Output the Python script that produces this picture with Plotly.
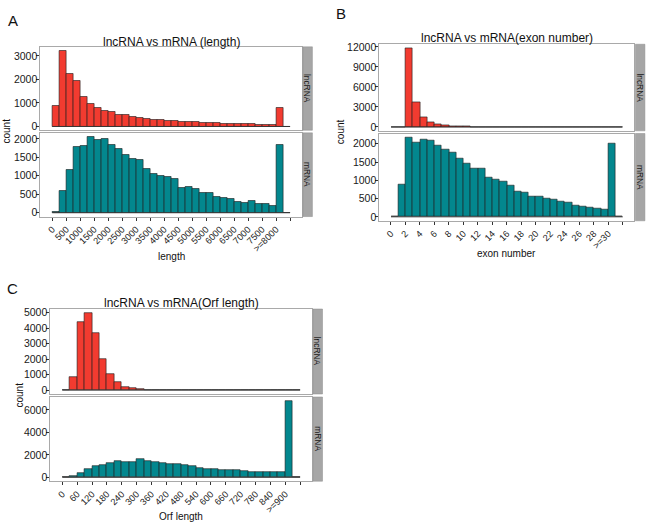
import numpy as np
import plotly.graph_objects as go

W, H = 648, 528

# ---------------- data ----------------
length_binwidth = 250
length_lnc = [870, 3230, 2260, 1960, 1280, 960, 780, 655, 615, 515, 475, 430, 380, 330, 300,
              290, 250, 230, 210, 215, 180, 160, 150, 140, 130, 120, 110, 95, 110, 85, 75, 75,
              810, 0]
length_mrna = [30, 586, 1154, 1776, 1803, 2060, 1971, 1989, 1838, 1740, 1571, 1447, 1420, 1180,
               1057, 1004, 977, 906, 684, 710, 639, 542, 542, 435, 417, 364, 284, 258, 320, 249,
               249, 195, 1847, 0]
length_tickvals = list(range(0, 8001, 500)) + [8500]
length_ticktext = [str(v) for v in range(0, 7501, 500)] + [">=8000", ""]

exon_binwidth = 1
exon_lnc = [0, 0, 11800, 3650, 1500, 720, 340, 180, 100, 60, 40, 25, 18, 12, 9, 7, 5, 4, 3, 3,
            2, 2, 1, 1, 1, 1, 1, 0, 0, 0, 10, 0]
exon_mrna = [0, 890, 2172, 2036, 2109, 2090, 1955, 1837, 1765, 1584, 1457, 1330, 1312, 1086,
             1023, 959, 851, 706, 661, 570, 552, 498, 462, 407, 380, 308, 290, 244, 226, 199,
             2000, 0]
exon_tickvals = list(range(0, 31, 2)) + [32]
exon_ticktext = [str(v) for v in range(0, 29, 2)] + [">=30", ""]

orf_binwidth = 30
orf_lnc = [0, 870, 4360, 4980, 3710, 2030, 1020, 510, 190, 130, 65, 40, 25, 15, 10, 6, 4, 2, 1,
           1, 0, 0, 0, 0, 0, 0, 0, 0, 0, 0, 0, 0]
orf_mrna = [30, 140, 400, 740, 1000, 1090, 1260, 1430, 1400, 1340, 1630, 1490, 1400, 1260, 1170,
            1170, 1090, 970, 860, 770, 740, 660, 690, 630, 600, 510, 490, 490, 490, 470, 6800, 0]
orf_tickvals = list(range(0, 901, 60)) + [960]
orf_ticktext = [str(v) for v in range(0, 841, 60)] + [">=900", ""]

RED = "#F23B30"
TEAL = "#03878E"
FONT = "Liberation Sans"

# ---------------- layout geometry (pixels) ----------------
panels = [
    dict(key="A", title="lncRNA vs mRNA (length)", xlabel="length",
         x0=40.4, x1=301.9, top=(43.3, 127.7), bot=(130.3, 215.0),
         title_y=38, xlabel_y=255, count_x=7,
         bw=length_binwidth, lnc=length_lnc, mrna=length_mrna,
         tv=length_tickvals, tt=length_ticktext,
         lnc_ticks=[0, 1000, 2000, 3000], mrna_ticks=[0, 500, 1000, 1500, 2000],
         letter=(13, 17)),
    dict(key="B", title="lncRNA vs mRNA(exon number)", xlabel="exon number",
         x0=379.4, x1=634.4, top=(40.7, 128.3), bot=(131.0, 219.3),
         title_y=34.5, xlabel_y=252, count_x=340,
         bw=exon_binwidth, lnc=exon_lnc, mrna=exon_mrna,
         tv=exon_tickvals, tt=exon_ticktext,
         lnc_ticks=[0, 3000, 6000, 9000, 12000], mrna_ticks=[0, 500, 1000, 1500, 2000],
         letter=(341, 10)),
    dict(key="C", title="lncRNA vs mRNA(Orf length)", xlabel="Orf length",
         x0=50.4, x1=312.0, top=(308.5, 394.5), bot=(397.5, 482.7),
         title_y=302, xlabel_y=518, count_x=19,
         bw=orf_binwidth, lnc=orf_lnc, mrna=orf_mrna,
         tv=orf_tickvals, tt=orf_ticktext,
         lnc_ticks=[0, 1000, 2000, 3000, 4000, 5000], mrna_ticks=[0, 2000, 4000, 6000],
         letter=(12, 288)),
]


def px(x):
    return x / W


def py(y):
    return 1 - y / H


fig = go.Figure()
layout = dict(width=W, height=H, margin=dict(l=0, r=0, t=0, b=0),
              paper_bgcolor="white", plot_bgcolor="white", showlegend=False,
              font=dict(family=FONT, color="#1a1a1a"), bargap=0)
shapes = []
annotations = []


def note(x, y, text, size, angle=0, color="#111"):
    annotations.append(dict(x=px(x), y=py(y), xref="paper", yref="paper", text=text,
                            textangle=angle, showarrow=False, xanchor="center",
                            yanchor="middle",
                            font=dict(size=size, family=FONT, color=color)))


ax = 0
for p in panels:
    n = len(p["lnc"])
    bw = p["bw"]
    centers = [bw * (i + 0.5) for i in range(n)]
    xmax = bw * n
    pad = 0.05 * xmax
    xr = [-pad, xmax + pad]
    for row, (vals, color, ticks, ylims, label) in enumerate([
        (p["lnc"], RED, p["lnc_ticks"], p["top"], "lncRNA"),
        (p["mrna"], TEAL, p["mrna_ticks"], p["bot"], "mRNA"),
    ]):
        ax += 1
        xa = "x" if ax == 1 else f"x{ax}"
        ya = "y" if ax == 1 else f"y{ax}"
        fig.add_trace(go.Bar(x=centers, y=vals, width=[bw] * n, xaxis=xa, yaxis=ya,
                             marker=dict(color=color, line=dict(color="#1a1a1a", width=0.6)),
                             hoverinfo="skip"))
        fig.add_trace(go.Scatter(x=[0, xmax], y=[0, 0], xaxis=xa, yaxis=ya, mode="lines",
                                 line=dict(color="#333333", width=0.9), hoverinfo="skip"))
        vmax = max(vals)
        yr = [-0.05 * vmax, 1.05 * vmax]
        is_bottom = row == 1
        xd = dict(domain=[px(p["x0"]), px(p["x1"])], range=xr, anchor=ya,
                  showgrid=False, zeroline=False, showline=True, mirror=True,
                  linecolor="#A9A9A9", linewidth=1,
                  tickvals=p["tv"], ticktext=p["tt"],
                  ticks="outside" if is_bottom else "", ticklen=3, tickcolor="#333",
                  showticklabels=is_bottom, tickangle=-45,
                  tickfont=dict(size=9.2, family=FONT, color="#1a1a1a"))
        yd = dict(domain=[py(ylims[1]), py(ylims[0])], range=yr, anchor=xa,
                  showgrid=False, zeroline=False, showline=True, mirror=True,
                  linecolor="#A9A9A9", linewidth=1,
                  tickvals=ticks, ticktext=[str(t) for t in ticks],
                  ticks="outside", ticklen=3, tickcolor="#333",
                  ticklabelstandoff=-3,
                  tickfont=dict(size=10.5, family=FONT, color="#1a1a1a"))
        layout["xaxis" if ax == 1 else f"xaxis{ax}"] = xd
        layout["yaxis" if ax == 1 else f"yaxis{ax}"] = yd
        # facet strip
        sx0, sx1 = p["x1"] + 1, p["x1"] + 10.5
        shapes.append(dict(type="rect", xref="paper", yref="paper",
                           x0=px(sx0), x1=px(sx1), y0=py(ylims[1]), y1=py(ylims[0]),
                           fillcolor="#A6A6A6", line=dict(color="#8C8C8C", width=0.5)))
        note((sx0 + sx1) / 2, (ylims[0] + ylims[1]) / 2, label, 8.4, angle=90, color="#1a1a1a")
    note((p["x0"] + p["x1"]) / 2, p["title_y"], p["title"], 12)
    note((p["x0"] + p["x1"]) / 2, p["xlabel_y"], p["xlabel"], 10)
    note(p["count_x"], (p["top"][1] + p["bot"][0]) / 2, "count", 10, angle=-90)
    note(p["letter"][0], p["letter"][1], p["key"], 15)

layout["shapes"] = shapes
layout["annotations"] = annotations
fig.update_layout(**layout)
fig.write_html("out.html", config={"displayModeBar": False},
               post_script="document.body.style.margin='0';")
